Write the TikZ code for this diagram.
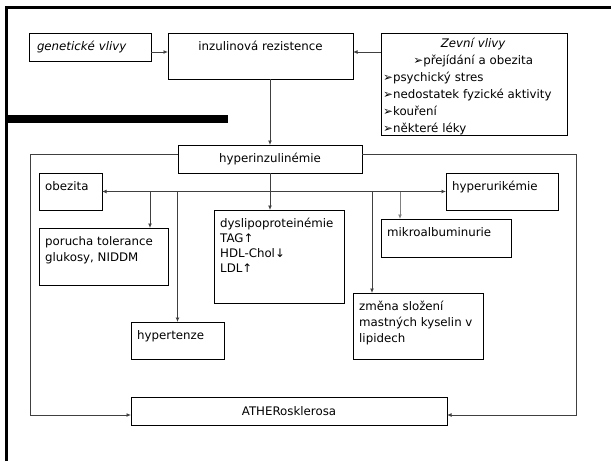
\documentclass[tikz,border=0pt]{standalone}
\usepackage{fontspec}
\setmainfont{DejaVu Sans}
\usetikzlibrary{arrows.meta}
\tikzset{
  box/.style n args={2}{draw, line width=1pt, anchor=north west, outer sep=0pt, inner sep=0pt, minimum width=#1pt, minimum height=#2pt},
  txt/.style={label={[anchor=north west, align=left, inner xsep=6pt, inner ysep=8pt]north west:#1}},
  arr/.style={draw=black!75, line width=0.9pt, -{Latex[length=4.5pt,width=4pt]}},
  arrs/.style={draw=black!75, line width=0.9pt, {Latex[length=4.5pt,width=4pt]}-{Latex[length=4.5pt,width=4pt]}},
}
\begin{document}
\begin{tikzpicture}[x=1pt, y=-1pt, font=\fontsize{11.8}{16}\selectfont]
        \useasboundingbox (0,0) rectangle (611,461);
        \draw[line width=3pt] (6.5,461) -- (6.5,7.5) -- (611,7.5);
        \fill (5,115) rectangle (228,123);

        \node[box={122}{28}, inner xsep=8pt, text width=106pt, align=left] (gen) at (29,33) {\textit{genetické vlivy}};
        \node[box={185}{46}, label={[anchor=north, inner ysep=8pt]north:inzulinová rezistence}] (inz) at (168,33) {};
        \node[box={186}{102}, label={[anchor=north west, text width=180pt, align=left, inner xsep=2pt, inner ysep=5pt, font=\fontsize{11.8}{17}\selectfont]north west:{\centering\textit{Zevní vlivy}\\➢přejídání a obezita\endgraf}➢psychický stres\\➢nedostatek fyzické aktivity\\➢kouření\\➢některé léky}] (zev) at (381,33) {};
        \node[box={184}{28}] (hyp) at (178,145) {hyperinzulinémie};
        \node[box={63}{37}, txt=obezita] (obe) at (39,173) {};
        \node[box={129}{57}, txt={porucha tolerance\\glukosy, NIDDM}] (por) at (39,228) {};
        \node[box={130}{93}, label={[anchor=north west, align=left, inner xsep=6pt, inner ysep=8pt, font=\fontsize{11.8}{15}\selectfont]north west:dyslipoproteinémie\\TAG↑\\HDL-Chol↓\\LDL↑}] (dys) at (214,210) {};
        \node[box={93}{37}, txt=hypertenze] (hyt) at (131,322) {};
        \node[box={130}{66}, txt={změna složení\\mastných kyselin v\\lipidech}] (zme) at (353,293) {};
        \node[box={130}{38}, txt=mikroalbuminurie] (mik) at (381,219) {};
        \node[box={112}{37}, txt=hyperurikémie] (hu) at (446,173) {};
        \node[box={316}{28}] (ath) at (131,397) {ATHERosklerosa};

        \coordinate (dpor) at (150,191.5);
        \coordinate (dzme) at (372,191.5);
        \coordinate (dmik) at (400,191.5);

        \draw[arr] ([yshift=-19pt]gen.north east) -- ([yshift=-19pt]inz.north west);
        \draw[arr] ([yshift=-19pt]zev.north west) -- ([yshift=-19pt]inz.north east);
        \draw[arr] (hyp.north |- inz.south) -- (hyp.north);
        \draw[arr] (hyp.south) -- (hyp.south |- dys.north);
        \draw[arrs] (obe.east) -- (hu.west);
        \draw[arr] (dpor) -- (dpor |- por.north);
        \draw[arr] (hyt.north |- obe.east) -- (hyt.north);
        \draw[arr] (dzme) -- (dzme |- zme.north);
        \draw[arr, draw=black!50] (dmik) -- (dmik |- mik.north);
        \draw[arr] ([yshift=5pt]hyp.west) -- ++(-148,0) |- ([yshift=-4pt]ath.west);
        \draw[arr] ([yshift=5pt]hyp.east) -- ++(214,0) |- ([yshift=-4pt]ath.east);
\end{tikzpicture}
\end{document}
